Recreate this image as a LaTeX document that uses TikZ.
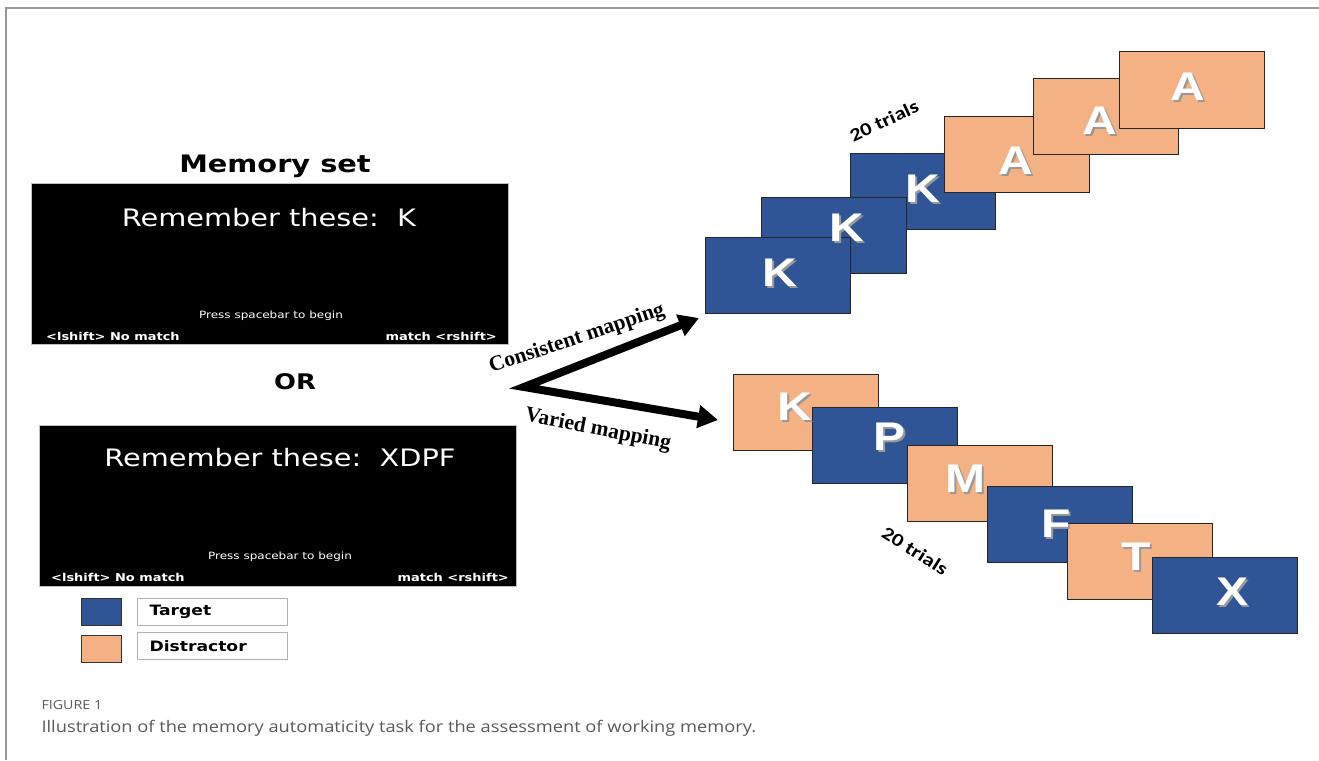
\documentclass[tikz,border=0pt]{standalone}
\usepackage{fontspec}
\usetikzlibrary{arrows.meta}

\setmainfont{DejaVu Sans}[FakeStretch=1.2]
\newfontfamily\letterfont{Liberation Sans}[FakeStretch=1.2]
\newfontfamily\mapfont{Liberation Serif}
\newfontfamily\trialfont{Carlito}[FakeStretch=1.2]
\newfontfamily\capfont{Open Sans}[FakeStretch=1.14]

\definecolor{targetblue}{HTML}{2F5597}
\definecolor{distorange}{HTML}{F4B183}
\definecolor{framegray}{HTML}{9A9A9A}
\definecolor{capgray}{HTML}{5A5A5A}

\newcommand{\fsz}[1]{\fontsize{#1}{#1}\selectfont}
% white letter with a soft drop shadow
\newcommand{\shadowed}[1]{\makebox[0pt][l]{\hspace{2pt}\raisebox{-2pt}{\textcolor{black!40}{#1}}}#1}

\tikzset{
  screen/.style={fill=black, draw=gray!50, line width=0.8pt,
    minimum width=477pt, minimum height=161pt, inner sep=0pt},
  screentext/.style={text=white, inner sep=1pt},
  card/.style={draw=black!85, line width=1pt,
    minimum width=145pt, minimum height=76pt, inner sep=0pt},
  target/.style={card, fill=targetblue},
  distractor/.style={card, fill=distorange},
  cardletter/.style={text=white, inner sep=0pt, font=\letterfont\bfseries\fsz{40}},
  swatch/.style={draw=black!80, line width=0.8pt, minimum width=40pt, minimum height=27pt, inner sep=0pt},
  keybox/.style={draw=gray!60, line width=0.8pt, minimum width=150pt, minimum height=27pt,
    inner sep=0pt},
  maplabel/.style={font=\mapfont\bfseries\fsz{21.5}},
  triallabel/.style={font=\trialfont\bfseries\fsz{18.5}},
}

\begin{document}
\begin{tikzpicture}[x=1pt, y=-1pt]
        \useasboundingbox (0,0) rectangle (1319,760);

        % Frame of the figure panel
        \draw[framegray, line width=1.2pt] (6,760) -- (6,8) -- (1319,8);

        % Memory set screens
        \node[font=\bfseries\fsz{24}] (title) at (275,166) {Memory set};
        \node[screen] (scr1) at (270,264) {};
        \node[screentext, font=\fsz{24}] (rem1) at (269,218) {Remember these:\ \ K};
        \node[screentext, font=\fsz{10}] (press1) at (271,316) {Press spacebar to begin};
        \node[screentext, font=\bfseries\fsz{10.8}, anchor=west] (nomatch1) at (45,336) {<lshift> No match};
        \node[screentext, font=\bfseries\fsz{10.8}, anchor=east] (match1) at (498,336) {match <rshift>};

        \node[font=\bfseries\fsz{21.5}] (or) at (295,382) {OR};

        \node[screen] (scr2) at (278,506) {};
        \node[screentext, font=\fsz{24}] (rem2) at (280,458) {Remember these:\ \ XDPF};
        \node[screentext, font=\fsz{10}] (press2) at (280,557) {Press spacebar to begin};
        \node[screentext, font=\bfseries\fsz{10.8}, anchor=west] (nomatch2) at (50,577) {<lshift> No match};
        \node[screentext, font=\bfseries\fsz{10.8}, anchor=east] (match2) at (510,577) {match <rshift>};

        % Key
        \node[swatch, fill=targetblue] (keyt) at (101,612) {};
        \node[keybox] (keytbox) at (212,612) {};
        \node[font=\bfseries\fsz{14.3}, anchor=west] at (146,612) {Target};
        \node[swatch, fill=distorange] (keyd) at (101,649) {};
        \node[keybox] (keydbox) at (212,646) {};
        \node[font=\bfseries\fsz{14.3}, anchor=west] at (146,646) {Distractor};

        % Fork of the two mappings
        \coordinate (fork) at (524,387);
        \coordinate (cmtip) at (699,318);
        \coordinate (vmtip) at (718,420);
        \draw[line width=8pt, line join=miter,
          {Triangle[length=20pt,width=22pt]}-{Triangle[length=20pt,width=22pt]}]
          (cmtip) -- (fork) -- (vmtip);
        \node[maplabel, rotate=18.5] (cmlabel) at (577,339) {Consistent mapping};
        \node[maplabel, rotate=-11] (vmlabel) at (598,430) {Varied mapping};

        % Consistent mapping trials
        \node[target] (c3) at (923,191) {};
        \node[target] (c2) at (834,235) {};
        \node[target] (c1) at (778,275) {};
        \node[distractor] (c4) at (1017,154) {};
        \node[distractor] (c5) at (1106,116) {};
        \node[distractor] (c6) at (1192,90) {};
        \node[cardletter] at (780,274) {\shadowed{K}};
        \node[cardletter] at (847,229) {\shadowed{K}};
        \node[cardletter] at (923,190) {\shadowed{K}};
        \node[cardletter] at (1016,162) {\shadowed{A}};
        \node[cardletter] at (1100,122) {\shadowed{A}};
        \node[cardletter] at (1188,88) {\shadowed{A}};
        \node[triallabel, rotate=25] (ctrials) at (884,121) {20 trials};

        % Varied mapping trials
        \node[distractor] (v1) at (806,412) {};
        \node[target] (v2) at (885,445) {};
        \node[distractor] (v3) at (980,483) {};
        \node[target] (v4) at (1060,524) {};
        \node[distractor] (v5) at (1140,561) {};
        \node[target] (v6) at (1225,595) {};
        \node[cardletter] at (795,408) {\shadowed{K}};
        \node[cardletter] at (889,438) {\shadowed{P}};
        \node[cardletter] at (965,480) {\shadowed{M}};
        \node[cardletter] at (1056,525) {\shadowed{F}};
        \node[cardletter] at (1136,558) {\shadowed{T}};
        \node[cardletter] at (1232,593) {\shadowed{X}};
        \node[triallabel, rotate=-32] (vtrials) at (915,551) {20 trials};

        % Caption
        \node[font=\capfont\fsz{12.5}, text=capgray, anchor=west] (fig) at (38,705) {FIGURE 1};
        \node[font=\capfont\fsz{16}, text=capgray, anchor=west] (cap) at (38,728)
          {Illustration of the memory automaticity task for the assessment of working memory.};
      \end{tikzpicture}
\end{document}
